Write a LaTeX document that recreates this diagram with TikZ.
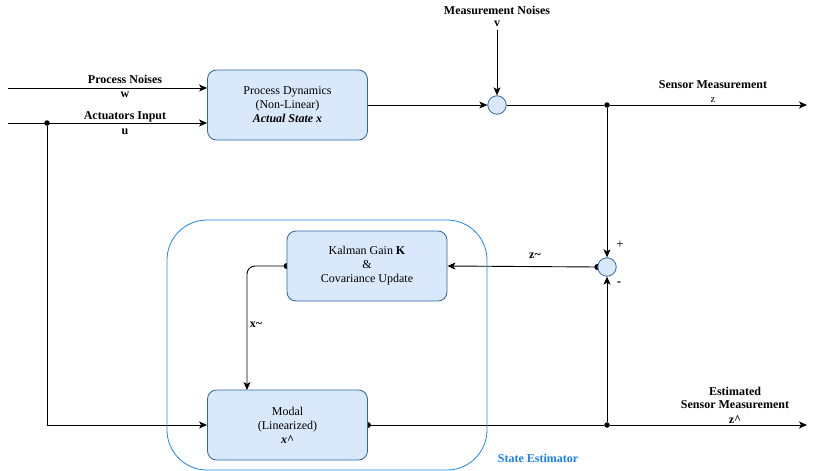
\documentclass[tikz,border=0pt]{standalone}
\usepackage{fontspec}
\setmainfont{Liberation Serif}
\usetikzlibrary{arrows.meta,backgrounds}
\definecolor{boxfill}{HTML}{DAE8FC}
\definecolor{boxline}{HTML}{2E64A8}
\definecolor{groupline}{HTML}{1E88F0}
\definecolor{grouptext}{HTML}{1A7FF0}
\tikzset{
  blockbox/.style={draw=boxline, fill=boxfill, line width=0.8pt, rounded corners=9pt,
    minimum width=160pt, minimum height=70pt, align=center, inner sep=0pt,
    font=\fontsize{12}{14}\selectfont},
  sumnode/.style={circle, draw=boxline, fill=boxfill, line width=0.8pt, minimum size=18.5pt, inner sep=0pt},
  tag/.style={font=\bfseries\fontsize{12}{14}\selectfont, align=center, inner sep=0pt},
  sig/.style={line width=0.9pt, -{Stealth[length=8pt,width=7pt,inset=2pt]}},
  wire/.style={line width=0.9pt},
  joint/.style={fill=black, circle, inner sep=0pt, minimum size=5.5pt},
  tail/.style={fill=black, circle, inner sep=0pt, minimum size=6pt}
}
\begin{document}
\begin{tikzpicture}[x=1pt,y=-1pt]
\useasboundingbox (0,0) rectangle (817,471);

% state estimator group
\draw[groupline, line width=0.8pt, rounded corners=40pt] (167,220) rectangle (487,470);
\node[tag, text=grouptext] (grp) at (538,458) {State Estimator};

% blocks
\node[blockbox] (plant) at (287.5,105) {Process Dynamics\\(Non-Linear)\\\textbf{\textit{Actual State x}}};
\node[blockbox] (kal) at (367,266) {Kalman Gain \textbf{K}\\\&\\Covariance Update};
\node[blockbox] (model) at (287.5,425) {Modal\\(Linearized)\\\textbf{\textit{x\textasciicircum}}};
\node[sumnode] (s1) at (497,105) {};
\node[sumnode] (s2) at (607,267) {};

% free ends and junctions
\coordinate (wIn) at (8,88);
\coordinate (uIn) at (8,123);
\coordinate (vIn) at (497,30);
\coordinate (zOut) at (807,105);
\coordinate (turn) at (47,425);
\node[joint] (ju) at (47,123) {};
\node[joint] (jz) at (607,105) {};
\node[joint] (jzh) at (607,425) {};

\begin{scope}[on background layer]
  \draw[sig] (wIn) -- (plant.west |- wIn);
  \draw[sig] (uIn) -- (plant.west |- uIn);
  \draw[sig] (vIn) -- (s1.north);
  \draw[sig] (plant.east) -- (s1.west);
  \draw[wire] (s1.east) -- (jz);
  \draw[sig] (jz) -- (zOut);
  \draw[sig] (jz) -- (s2.north);
  \draw[sig] (s2.west) -- (kal.east);
  \node[tail] (t1) at (s2.west) {};
  \draw[sig, rounded corners=8pt] (kal.west) -- (247,266) -- (247,390);
  \node[tail] (t2) at (kal.west) {};
  \draw[wire] (ju) -- (turn);
  \draw[sig] (turn) -- (model.west);
  \draw[wire] (model.east) -- (jzh);
  \node[tail] (t3) at (model.east) {};
  \draw[sig] (jzh) -- (zOut |- jzh);
  \draw[sig] (jzh) -- (s2.south);
\end{scope}

% labels
\node[tag] (lw1) at (125,79) {Process Noises};
\node[tag] (lw2) at (125,95) {w};
\node[tag] (lu1) at (125,117) {Actuators Input};
\node[tag] (lu2) at (125,132) {u};
\node[tag] (lv1) at (497,10) {Measurement Noises};
\node[tag] (lv2) at (497,24) {v};
\node[tag] (lz1) at (713,85) {Sensor Measurement};
\node[tag, font=\fontsize{10.5}{12}\selectfont] (lz2) at (713,100) {z};
\node[tag] (lzt) at (535,256) {z\textasciitilde};
\node[tag, font=\fontsize{13}{14}\selectfont] (lplus) at (620,245) {+};
\node[tag, font=\bfseries\fontsize{13}{14}\selectfont] (lminus) at (619,284) {-};
\node[tag] (lxt) at (256,325) {x\textasciitilde};
\node[tag] (le1) at (735,391) {Estimated};
\node[tag] (le2) at (735,405) {Sensor Measurement};
\node[tag] (le3) at (735,420) {z\textasciicircum};
\end{tikzpicture}
\end{document}
